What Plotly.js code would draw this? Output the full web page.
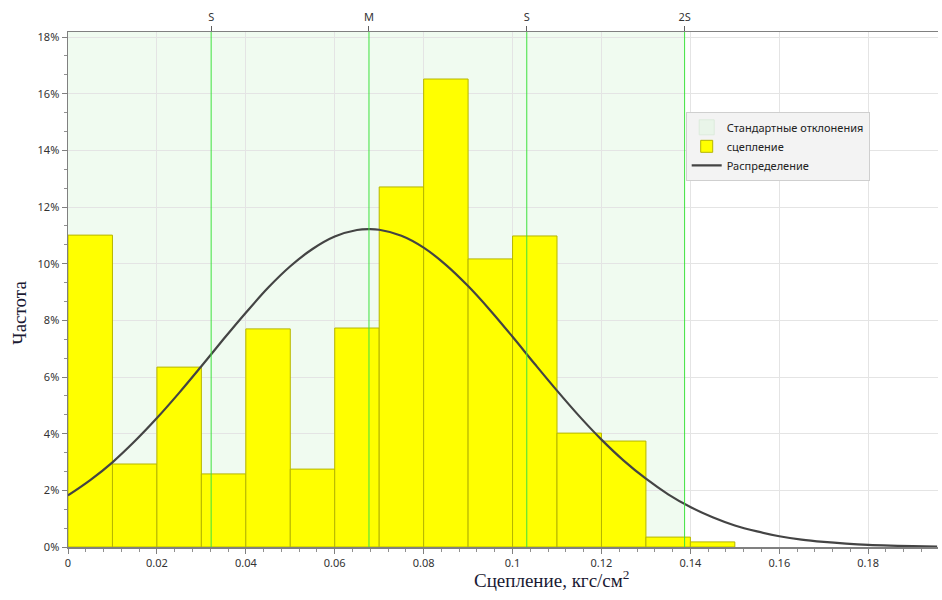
<!DOCTYPE html>
<html>
<head>
<meta charset="utf-8">
<script src="https://cdn.plot.ly/plotly-3.0.1.min.js"></script>
<style>html,body{margin:0;padding:0;background:#fff;}#chart{width:942px;height:600px;}</style>
</head>
<body>
<div id="chart"></div>
<script>
// Histogram bins (left edges, kgf/cm2) and frequencies (%)
const binStarts = [0, 0.01, 0.02, 0.03, 0.04, 0.05, 0.06, 0.07, 0.08, 0.09, 0.10, 0.11, 0.12, 0.13, 0.14];
const binWidth = 0.01;
const freqPct = [11.01, 2.93, 6.35, 2.58, 7.70, 2.75, 7.73, 12.71, 16.52, 10.17, 10.98, 4.02, 3.74, 0.35, 0.18];

// Distribution curve
const curveX = [0, 0.005, 0.01, 0.015, 0.02, 0.025, 0.03, 0.035, 0.04, 0.045, 0.05, 0.055, 0.06, 0.065, 0.0677, 0.07, 0.075, 0.08, 0.085, 0.09, 0.095, 0.10, 0.105, 0.11, 0.115, 0.12, 0.125, 0.13, 0.135, 0.14, 0.145, 0.15, 0.155, 0.16, 0.165, 0.17, 0.175, 0.18, 0.185, 0.19, 0.1955];
const curveY = [1.82, 2.36, 2.99, 3.73, 4.55, 5.44, 6.38, 7.34, 8.27, 9.15, 9.91, 10.52, 10.96, 11.19, 11.22, 11.20, 10.99, 10.57, 9.96, 9.21, 8.35, 7.42, 6.46, 5.52, 4.62, 3.79, 3.05, 2.41, 1.86, 1.41, 1.05, 0.76, 0.55, 0.38, 0.26, 0.18, 0.12, 0.075, 0.048, 0.030, 0.017];

// Mean / standard deviation markers
const markerPos = [0.0322, 0.0677, 0.1032, 0.1387];
const markerLabels = ['S', 'M', 'S', '2S'];

// x tick labels
const xTickVals = [0, 0.02, 0.04, 0.06, 0.08, 0.1, 0.12, 0.14, 0.16, 0.18];
const xTickText = ['0', '0.02', '0.04', '0.06', '0.08', '0.1', '0.12', '0.14', '0.16', '0.18'];

const xRange = [0, 0.1957];
const yRange = [0, 18.18];

const shadeColor = '#f0fbf0';
const greenLine = '#3ee23e';

const traces = [
  { // legend entry for the shaded band
    type: 'scatter', mode: 'markers', x: [null], y: [null],
    name: 'Стандартные отклонения',
    marker: { symbol: 'square', size: 15, color: '#e9f5e9', line: { color: '#dcebdc', width: 1 } },
    hoverinfo: 'skip'
  },
  {
    type: 'bar', x: binStarts, y: freqPct, width: binWidth, offset: 0,
    name: 'сцепление',
    marker: { color: '#ffff00', line: { color: '#b5b500', width: 1 } }
  },
  {
    type: 'scatter', mode: 'lines', x: curveX, y: curveY,
    name: 'Распределение', line: { color: '#444444', width: 2.2, shape: 'spline' }
  },
  { // invisible trace for the top axis
    type: 'scatter', mode: 'markers', x: [markerPos[0]], y: [0], xaxis: 'x2',
    marker: { opacity: 0 }, showlegend: false, hoverinfo: 'skip'
  }
];

const shapes = [{
  type: 'rect', xref: 'x', yref: 'paper', x0: 0, x1: markerPos[3], y0: 0, y1: 1,
  fillcolor: shadeColor, line: { width: 0 }, layer: 'below'
}];
markerPos.forEach(p => shapes.push({
  type: 'line', xref: 'x', yref: 'paper', x0: p, x1: p, y0: 0, y1: 1,
  line: { color: greenLine, width: 1 }, layer: 'above'
}));

const tickFont = { family: 'Noto Sans, sans-serif', size: 11, color: '#333' };

const layout = {
  width: 942, height: 600,
  margin: { l: 68, r: 4, t: 32, b: 53 },
  paper_bgcolor: '#fff', plot_bgcolor: '#fff',
  showlegend: true,
  bargap: 0,
  legend: {
    x: 0.71, y: 0.845, xanchor: 'left', yanchor: 'top',
    bgcolor: '#f3f3f3', bordercolor: '#cfcfcf', borderwidth: 1,
    font: { family: 'Noto Sans, sans-serif', size: 11, color: '#222' },
    tracegroupgap: 0, itemwidth: 30
  },
  xaxis: {
    range: xRange, tickmode: 'array', tickvals: xTickVals, ticktext: xTickText,
    showgrid: true, gridcolor: '#e4e4e4', zeroline: false,
    showline: true, linecolor: '#808080', linewidth: 1.5,
    ticks: 'outside', ticklen: 5, tickcolor: '#808080',
    minor: { tickmode: 'linear', tick0: 0, dtick: 0.004, ticks: 'outside', ticklen: 3, tickcolor: '#909090', showgrid: false },
    tickfont: tickFont
  },
  xaxis2: {
    overlaying: 'x', side: 'top', range: xRange,
    tickmode: 'array', tickvals: markerPos, ticktext: markerLabels,
    showgrid: false, zeroline: false,
    showline: true, linecolor: '#808080', linewidth: 1.5,
    ticks: 'outside', ticklen: 5, tickcolor: '#606060',
    tickfont: tickFont
  },
  yaxis: {
    range: yRange, dtick: 2, tick0: 0, ticksuffix: '%',
    showgrid: true, gridcolor: '#e4e4e4', zeroline: false,
    showline: true, linecolor: '#808080', linewidth: 1.5,
    ticks: 'outside', ticklen: 5, tickcolor: '#808080',
    minor: { dtick: 2 / 3, ticks: 'outside', ticklen: 3, tickcolor: '#909090', showgrid: false },
    tickfont: tickFont
  },
  shapes: shapes,
  annotations: [
    {
      text: 'Сцепление, кгс/см<sup>2</sup>', xref: 'paper', yref: 'paper',
      x: 0.556, y: 0, yshift: -32, xanchor: 'center', yanchor: 'middle', showarrow: false,
      font: { family: 'Liberation Serif, serif', size: 19, color: '#1a1a33' }
    },
    {
      text: 'Частота', xref: 'paper', yref: 'paper', textangle: -90,
      x: 0, xshift: -48, y: 0.455, xanchor: 'center', yanchor: 'middle', showarrow: false,
      font: { family: 'Liberation Serif, serif', size: 19, color: '#1a1a33' }
    }
  ]
};

Plotly.newPlot('chart', traces, layout, { displayModeBar: false, staticPlot: true });
</script>
</body>
</html>
